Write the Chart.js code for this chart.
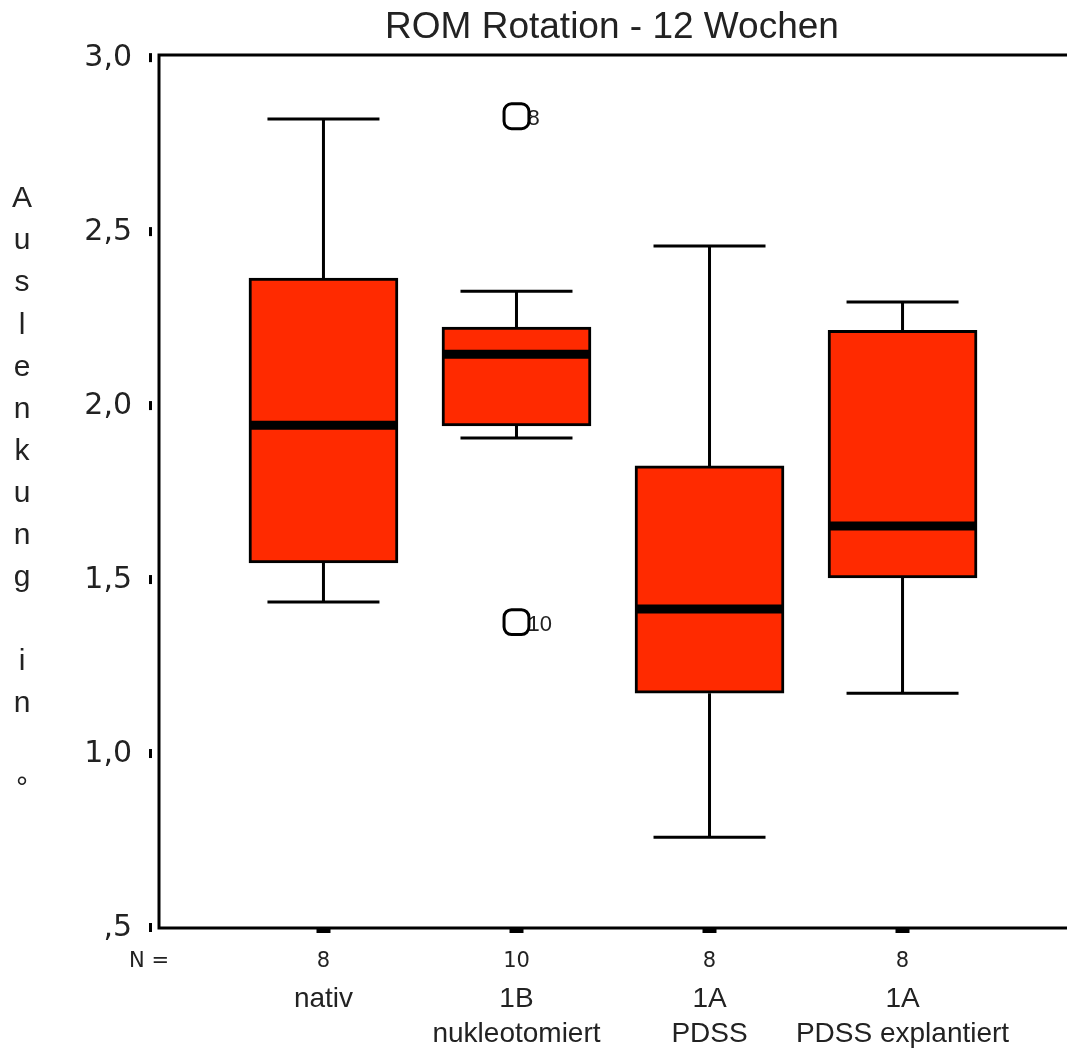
<!DOCTYPE html>
<html>
<head>
<meta charset="utf-8">
<title>ROM Rotation - 12 Wochen</title>
<script src="https://cdn.jsdelivr.net/npm/chart.js@4.4.0/dist/chart.umd.min.js"></script>
<style>
    html, body { margin: 0; padding: 0; background: #fff; }
</style>
</head>
<body>
<canvas id="chart" width="1067" height="1057"></canvas>
<script>
    // Box plot values
    var groupPos = [1, 2, 3, 4];
    var groupNames = [['nativ'], ['1B', 'nukleotomiert'], ['1A', 'PDSS'], ['1A', 'PDSS explantiert']];
    var groupN = [8, 10, 8, 8];
    var whiskerMin = [1.437, 1.908, 0.761, 1.175];
    var q1 = [1.549, 1.943, 1.175, 1.506];
    var median = [1.945, 2.149, 1.417, 1.655];
    var q3 = [2.368, 2.227, 1.828, 2.218];
    var whiskerMax = [2.825, 2.330, 2.460, 2.299];

    // Outliers
    var outlierPos = [2, 2];
    var outlierValues = [2.833, 1.379];
    var outlierLabels = ['8', '10'];

    // Axis ticks
    var yTickValues = [0.5, 1.0, 1.5, 2.0, 2.5, 3.0];
    var yTickLabels = [',5', '1,0', '1,5', '2,0', '2,5', '3,0'];

    var titleText = 'ROM Rotation - 12 Wochen';
    var yTitleText = 'Auslenkung in \u00b0';

    var textColor = '#222';
    var boxColor = '#ff2a00';

    /**
     * Whiskers, medians, outlier labels, frame and extra texts
     */
    var boxPlotExtras = {
        id: 'boxPlotExtras',
        beforeDatasetsDraw: function(chart) {
            var ctx = chart.ctx;
            var x = chart.scales.x;
            var y = chart.scales.y;
            var capHalf = 56;

            ctx.save();
            ctx.strokeStyle = '#000';
            ctx.lineWidth = 3;
            for (var i = 0; i < groupPos.length; i++) {
                var px = x.getPixelForValue(groupPos[i]);
                ctx.beginPath();
                ctx.moveTo(px, y.getPixelForValue(q3[i]));
                ctx.lineTo(px, y.getPixelForValue(whiskerMax[i]));
                ctx.moveTo(px - capHalf, y.getPixelForValue(whiskerMax[i]));
                ctx.lineTo(px + capHalf, y.getPixelForValue(whiskerMax[i]));
                ctx.moveTo(px, y.getPixelForValue(q1[i]));
                ctx.lineTo(px, y.getPixelForValue(whiskerMin[i]));
                ctx.moveTo(px - capHalf, y.getPixelForValue(whiskerMin[i]));
                ctx.lineTo(px + capHalf, y.getPixelForValue(whiskerMin[i]));
                ctx.stroke();
            }

            // Outlier case numbers (partly hidden by the markers)
            ctx.fillStyle = textColor;
            ctx.font = '22px "Liberation Sans", Arial, sans-serif';
            ctx.textAlign = 'left';
            ctx.textBaseline = 'middle';
            for (var j = 0; j < outlierPos.length; j++) {
                ctx.fillText(outlierLabels[j],
                    x.getPixelForValue(outlierPos[j]) + 11,
                    y.getPixelForValue(outlierValues[j]) + 3);
            }
            ctx.restore();
        },
        afterDatasetsDraw: function(chart) {
            var ctx = chart.ctx;
            var x = chart.scales.x;
            var y = chart.scales.y;

            ctx.save();
            ctx.strokeStyle = '#000';
            ctx.lineWidth = 9;
            for (var i = 0; i < groupPos.length; i++) {
                var px = x.getPixelForValue(groupPos[i]);
                var py = y.getPixelForValue(median[i]);
                ctx.beginPath();
                ctx.moveTo(px - 73, py);
                ctx.lineTo(px + 73, py);
                ctx.stroke();
            }
            ctx.restore();
        },
        afterDraw: function(chart) {
            var ctx = chart.ctx;
            var area = chart.chartArea;
            var x = chart.scales.x;
            var y = chart.scales.y;

            ctx.save();
            // Frame (right side is cut off in the original)
            ctx.strokeStyle = '#000';
            ctx.lineWidth = 3;
            ctx.beginPath();
            ctx.moveTo(chart.width, area.top);
            ctx.lineTo(area.left, area.top);
            ctx.lineTo(area.left, area.bottom);
            ctx.lineTo(chart.width, area.bottom);
            ctx.stroke();

            // Small tick marks left of the y axis
            ctx.fillStyle = '#000';
            for (var t = 0; t < yTickValues.length; t++) {
                var ty = y.getPixelForValue(yTickValues[t]);
                ctx.fillRect(area.left - 10, ty - 5, 3, 9);
            }

            // Title
            ctx.fillStyle = textColor;
            ctx.textAlign = 'center';
            ctx.textBaseline = 'middle';
            ctx.font = '37px "Liberation Sans", Arial, sans-serif';
            ctx.fillText(titleText, 612, 28);

            // Vertical y axis title, one letter per line
            ctx.font = '30px "Liberation Sans", Arial, sans-serif';
            var letters = yTitleText.split('');
            for (var k = 0; k < letters.length; k++) {
                if (letters[k] === ' ') continue;
                ctx.fillText(letters[k], 22, 199 + k * 42.1);
            }

            // Case counts
            ctx.font = '21px "DejaVu Sans", Verdana, sans-serif';
            ctx.fillText('N =', 149, 962);
            for (var n = 0; n < groupPos.length; n++) {
                ctx.fillText(String(groupN[n]), x.getPixelForValue(groupPos[n]), 962);
            }
            ctx.restore();
        }
    };

    var ctx = document.getElementById('chart');

    new Chart(ctx, {
        type: 'bar',
        data: {
            datasets: [{
                type: 'bar',
                data: groupPos.map(function(p, i) {
                    return { x: p, y: [q1[i], q3[i]] };
                }),
                backgroundColor: boxColor,
                borderColor: '#000',
                borderWidth: 3,
                borderSkipped: false,
                barThickness: 149,
                order: 2
            }, {
                type: 'scatter',
                data: outlierPos.map(function(p, i) {
                    return { x: p, y: outlierValues[i] };
                }),
                pointStyle: 'rectRounded',
                pointRadius: 14.5,
                pointBackgroundColor: '#fff',
                pointBorderColor: '#000',
                pointBorderWidth: 3,
                order: 1
            }]
        },
        options: {
            responsive: false,
            animation: false,
            devicePixelRatio: 1,
            layout: {
                autoPadding: false,
                padding: { top: 55, right: 0, bottom: 0, left: 0 }
            },
            plugins: {
                legend: { display: false },
                tooltip: { enabled: false },
                title: { display: false }
            },
            scales: {
                x: {
                    type: 'linear',
                    min: 0.148,
                    max: 4.852,
                    offset: false,
                    border: { display: false },
                    grid: {
                        offset: false,
                        drawOnChartArea: false,
                        drawTicks: true,
                        tickLength: 5,
                        tickWidth: 14,
                        tickColor: '#000'
                    },
                    afterBuildTicks: function(scale) {
                        scale.ticks = groupPos.map(function(v) { return { value: v }; });
                    },
                    afterFit: function(scale) {
                        scale.height = 129;
                        scale.paddingLeft = 0;
                        scale.paddingRight = 0;
                    },
                    ticks: {
                        autoSkip: false,
                        maxRotation: 0,
                        padding: 49,
                        color: textColor,
                        font: { family: '"Liberation Sans", Arial, sans-serif', size: 28, lineHeight: 1.25 },
                        callback: function(value) {
                            var idx = groupPos.indexOf(value);
                            return idx >= 0 ? groupNames[idx] : '';
                        }
                    }
                },
                y: {
                    type: 'linear',
                    min: 0.5,
                    max: 3.009,
                    border: { display: false },
                    grid: { display: false, drawTicks: false },
                    afterBuildTicks: function(scale) {
                        scale.ticks = yTickValues.map(function(v) { return { value: v }; });
                    },
                    afterFit: function(scale) {
                        scale.width = 159;
                    },
                    ticks: {
                        padding: 27,
                        color: textColor,
                        font: { family: '"DejaVu Sans", Verdana, sans-serif', size: 30 },
                        callback: function(value) {
                            var idx = yTickValues.indexOf(value);
                            return idx >= 0 ? yTickLabels[idx] : '';
                        }
                    }
                }
            }
        },
        plugins: [boxPlotExtras]
    });
</script>
</body>
</html>
